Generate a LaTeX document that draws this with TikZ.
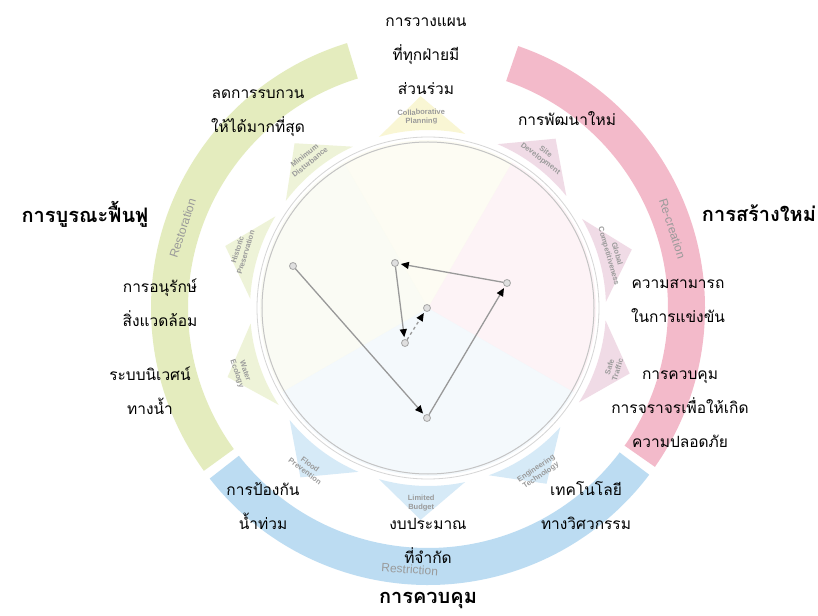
\documentclass[tikz,border=0pt]{standalone}
\usepackage{fontspec}
\setsansfont{Liberation Sans}
\newfontfamily\thaifont[Script=Thai]{Loma}
\usetikzlibrary{arrows.meta, positioning}
\definecolor{RestGreen}{HTML}{E4ECBE}
\definecolor{RecrPink}{HTML}{F3BACA}
\definecolor{RestrBlue}{HTML}{BCDCF2}
\definecolor{PlanYellow}{HTML}{F6F1B8}
\definecolor{PetalPink}{HTML}{E6C3D6}
\definecolor{RingGray}{HTML}{C4C4C4}
\definecolor{TagGray}{HTML}{9A9A9A}

\begin{document}
\begin{tikzpicture}[x=1pt, y=1pt,
  thai/.style={font=\thaifont\fontsize{15.5}{34}\selectfont, align=center, inner sep=0pt},
  thaihead/.style={font=\thaifont\bfseries\fontsize{20}{24}\selectfont, inner sep=0pt},
  tag/.style={font=\sffamily\bfseries\fontsize{7.5}{8.5}\selectfont, text=TagGray, align=center, inner sep=0pt},
  bandtag/.style={font=\sffamily\fontsize{12}{13}\selectfont, text=TagGray, inner sep=0pt},
  dot/.style={circle, draw=gray!70, fill=gray!25, line width=0.8pt, minimum size=7pt, inner sep=0pt},
  move/.style={draw=gray!80, line width=1.3pt, -{Triangle[length=8pt, width=7pt, color=black]}, shorten >=2pt}]
\useasboundingbox (-428,308) rectangle (390,-307);
\fill[white] (-428,308) rectangle (390,-307);

% outer bands
\foreach \a/\b/\col in {107/216/RestGreen, 218/323/RestrBlue, -35/71/RecrPink}
  \fill[\col] (\a:240) arc[start angle=\a, end angle=\b, radius=240]
    -- (\b:277) arc[start angle=\b, end angle=\a, radius=277] -- cycle;

% pale sectors inside the ring
\foreach \a/\b/\col in {60/120/PlanYellow, 120/210/RestGreen, 210/330/RestrBlue, -30/60/RecrPink}
  \fill[\col, opacity=0.16] (0,0) -- (\a:168) arc[start angle=\a, end angle=\b, radius=168] -- cycle;

% petals
\foreach \a/\col in {92/PlanYellow, 53/PetalPink, 16/PetalPink, -18/PetalPink, -56/RestrBlue,
                     -92/RestrBlue, 233/RestrBlue, 199/RestGreen, 163/RestGreen, 129/RestGreen}
  \fill[\col, opacity=0.6] (\a-14:178) arc[start angle=\a-14, end angle=\a+14, radius=178] -- (\a:212) -- cycle;

\draw[RingGray, line width=1pt] (0,0) circle[radius=166];
\draw[RingGray!70, line width=0.8pt] (0,0) circle[radius=171];

% band and petal tags
\node[bandtag, rotate=72] (trest) at (162:258) {Restoration};
\node[bandtag, rotate=-72] (trecr) at (18:257) {Re-creation};
\node[bandtag, rotate=-4] (trestr) at (266:262) {Restriction};
\node[tag, rotate=2] (tplan) at (92:191) {Collaborative\\Planning};
\node[tag, rotate=-37] (tsite) at (53:191) {Site\\Development};
\node[tag, rotate=-74] (tglob) at (16:192) {Global\\Competitiveness};
\node[tag, rotate=72] (tsafe) at (-18:195) {Safe\\Traffic};
\node[tag, rotate=34] (teng) at (-56:198) {Engineering\\Technology};
\node[tag] (tbud) at (-92:195) {Limited\\Budget};
\node[tag, rotate=-37] (tflood) at (233:200) {Flood\\Prevention};
\node[tag, rotate=-71] (twater) at (199:198) {Water\\Ecology};
\node[tag, rotate=73] (thist) at (163:195) {Historic\\Preservation};
\node[tag, rotate=39] (tmin) at (129:192) {Minimum\\Disturbance};

% path of points
\node[dot] (p1) at (-135,42) {};
\node[dot] (p2) at (-1,-110) {};
\node[dot] (p3) at (79,25) {};
\node[dot] (p4) at (-33,45) {};
\node[dot] (p5) at (-23,-35) {};
\node[dot] (p6) at (-1,0) {};
\draw[move] (p1) -- (p2);
\draw[move] (p2) -- (p3);
\draw[move] (p3) -- (p4);
\draw[move] (p4) -- (p5);
\draw[move, dashed] (p5) -- (p6);

% thai labels
\node[thai] (lplan) at (-2,252) {การวางแผน\\ที่ทุกฝ่ายมี\\ส่วนร่วม};
\node[thai] (lmin) at (-170,195) {ลดการรบกวน\\ให้ได้มากที่สุด};
\node[thai] (lsite) at (139,189) {การพัฒนาใหม่};
\node[thaihead] (lrest) at (-343,94) {การบูรณะฟื้นฟู};
\node[thaihead] (lrecr) at (331,95) {การสร้างใหม่};
\node[thai] (lglob) at (250,7) {ความสามารถ\\ในการแข่งขัน};
\node[thai] (lhist) at (-268,5) {การอนุรักษ์\\สิ่งแวดล้อม};
\node[thai] (lwater) at (-278,-83) {ระบบนิเวศน์\\ทางน้ำ};
\node[thai] (lsafe) at (252,-101) {การควบคุม\\การจราจรเพื่อให้เกิด\\ความปลอดภัย};
\node[thai] (lflood) at (-165,-198) {การป้องกัน\\น้ำท่วม};
\node[thai] (leng) at (158,-198) {เทคโนโลยี\\ทางวิศวกรรม};
\node[thai] (lbud) at (0,-233) {งบประมาณ\\ที่จำกัด};
\node[thaihead] (lrestr) at (0,-292) {การควบคุม};
\end{tikzpicture}
\end{document}
